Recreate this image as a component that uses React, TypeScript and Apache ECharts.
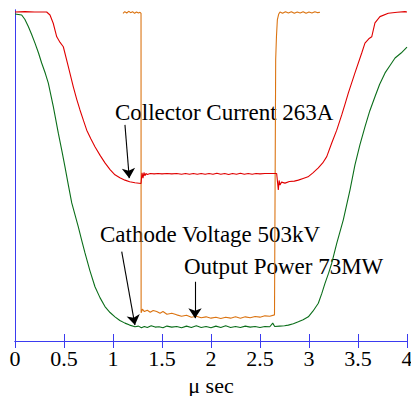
import React, { useEffect, useRef } from 'react';
import * as echarts from 'echarts';

// time in microseconds, amplitude in % of full scale
const collectorCurrent: number[][] = [
  [0, 99.4], [0.1, 99.5], [0.2, 99.4], [0.323, 99.4], [0.357, 98.5], [0.39, 96], [0.426, 91.9], [0.46, 90.2],
  [0.493, 88.9], [0.544, 82.9], [0.595, 76.8], [0.63, 73], [0.663, 69.8], [0.7, 66.5], [0.732, 63.7],
  [0.775, 61], [0.816, 58.7], [0.87, 56], [0.918, 53.8], [0.97, 51.8], [1.02, 50.2], [1.07, 49.3],
  [1.122, 48.6], [1.17, 48.1], [1.224, 47.8], [1.286, 47.6], [1.296, 50.8], [1.306, 49.2], [1.316, 50.9],
  [1.326, 49.9], [1.336, 50.6], [1.35, 50.3], [1.38, 50.6], [1.42, 50.5], [1.46, 50.6], [1.5, 50.5],
  [1.55, 50.6], [1.6, 50.5], [1.65, 50.6], [1.7, 50.4], [1.74, 50.6], [1.78, 50.4], [1.82, 50.6],
  [1.86, 50.4], [1.9, 50.6], [1.94, 50.4], [1.98, 50.6], [2.02, 50.4], [2.06, 50.7], [2.1, 50.4],
  [2.14, 50.6], [2.18, 50.3], [2.22, 50.6], [2.26, 50.4], [2.3, 50.7], [2.34, 50.4], [2.38, 50.6],
  [2.42, 50.4], [2.46, 50.6], [2.5, 50.5], [2.55, 50.6], [2.6, 50.6], [2.67, 50.6], [2.687, 45.6],
  [2.695, 48.5], [2.704, 47.1], [2.72, 48], [2.755, 47.7], [2.8, 48.2], [2.85, 48.3], [2.891, 48.6],
  [2.94, 49.1], [2.99, 49.6], [3.04, 50.8], [3.095, 52.3], [3.14, 53.8], [3.181, 55.7], [3.232, 59.8],
  [3.283, 63.7], [3.334, 68.3], [3.37, 71.8], [3.401, 74.9], [3.469, 81.0], [3.538, 87.0], [3.571, 90.0],
  [3.61, 91.3], [3.64, 91.9], [3.673, 96.1], [3.724, 98.0], [3.809, 99.0], [3.9, 99.3], [3.98, 99.5], [4, 99.4],
];

const cathodeVoltage: number[][] = [
  [0, 98.8], [0.068, 98.5], [0.1, 97.2], [0.136, 95.0], [0.17, 92.6], [0.204, 90.0], [0.24, 87], [0.272, 84.0],
  [0.31, 80.8], [0.34, 77.9], [0.391, 70.8], [0.442, 62.8], [0.48, 57.2], [0.51, 52.6], [0.545, 47],
  [0.579, 41.7], [0.646, 34.5], [0.68, 30.5], [0.714, 26.6], [0.765, 21.2], [0.816, 16.4], [0.867, 13.1],
  [0.918, 10.4], [0.97, 8.6], [1.02, 7.3], [1.07, 6.2], [1.122, 5.4], [1.17, 4.8], [1.224, 4.3],
  [1.26, 4.5], [1.29, 4.0], [1.32, 4.4], [1.35, 4.1], [1.39, 4.6], [1.43, 4.2], [1.47, 4.3], [1.51, 4.0],
  [1.55, 4.5], [1.6, 4.2], [1.65, 4.4], [1.7, 4.0], [1.75, 4.5], [1.8, 4.1], [1.85, 4.6], [1.9, 4.1],
  [1.95, 4.4], [2.0, 4.0], [2.05, 4.5], [2.1, 4.1], [2.15, 4.6], [2.2, 4.1], [2.25, 4.4], [2.3, 4.1],
  [2.35, 4.5], [2.4, 4.2], [2.45, 4.4], [2.5, 4.1], [2.55, 4.4], [2.6, 4.3], [2.63, 5.4], [2.65, 4.4],
  [2.7, 4.5], [2.75, 4.6], [2.789, 4.8], [2.84, 5.2], [2.891, 5.8], [2.94, 6.4], [2.993, 7.3], [3.04, 9.0],
  [3.095, 11.4], [3.13, 14.3], [3.163, 17.4], [3.2, 20.5], [3.232, 23.5], [3.283, 29.5], [3.35, 36.6],
  [3.418, 45.6], [3.469, 53.2], [3.52, 59.3], [3.571, 64.7], [3.62, 69.5], [3.673, 73.8], [3.72, 77.5],
  [3.776, 81.0], [3.83, 83.4], [3.878, 85.5], [3.94, 87.0], [4.0, 88.8],
];

const outputPower: number[][] = [
  [1.102, 99.0], [1.12, 99.5], [1.14, 99.1], [1.16, 99.6], [1.18, 99.2], [1.2, 99.5], [1.22, 99.0],
  [1.24, 99.4], [1.26, 99.1], [1.276, 99.3], [1.286, 99.0], [1.287, 8.5], [1.3, 9.6], [1.32, 8.9],
  [1.35, 9.3], [1.38, 8.7], [1.41, 9.2], [1.446, 8.9], [1.48, 8.4], [1.51, 8.9], [1.55, 8.1], [1.6, 8.4],
  [1.65, 7.9], [1.7, 7.5], [1.75, 7.8], [1.8, 7.2], [1.85, 7.5], [1.9, 7.0], [1.95, 7.3], [2.0, 6.9],
  [2.05, 7.2], [2.1, 6.8], [2.15, 7.2], [2.2, 6.9], [2.25, 7.3], [2.3, 6.9], [2.35, 7.3], [2.4, 7.0],
  [2.45, 7.4], [2.5, 7.2], [2.55, 7.6], [2.6, 7.5], [2.648, 7.9], [2.66, 85], [2.668, 92], [2.677, 97],
  [2.69, 98.7], [2.704, 99.4], [2.73, 99.0], [2.76, 99.5], [2.79, 99.1], [2.82, 99.5], [2.85, 99.0],
  [2.88, 99.4], [2.91, 99.1], [2.94, 99.5], [2.97, 99.0], [3.0, 99.4], [3.03, 99.1], [3.06, 99.5],
  [3.09, 99.2], [3.112, 99.3],
];

// annotation arrows: [start, tip] in data coordinates
const collectorArrow = [[1.122, 65.3], [1.166, 49.2]];
const cathodeArrow = [[1.089, 27.0], [1.224, 4.8]];
const powerArrow = [[1.837, 17.9], [1.837, 6.9]];

const labels = ['Collector Current 263A', 'Cathode Voltage 503kV', 'Output Power 73MW'];
const xName = 'μ sec';

const SERIF = 'Times New Roman, Liberation Serif, Times, serif';
const BLUE = '#3b3bf0';

function arrowLine(a: number[][]) {
  return [{ coord: a[0] }, { coord: a[1] }];
}

export default function App() {
  const ref = useRef<HTMLDivElement>(null);
  useEffect(() => {
    const chart = echarts.init(ref.current!, null, { renderer: 'svg' });
    const axisBase = {
      type: 'value',
      min: 0,
      max: 4,
      interval: 0.5,
      splitLine: { show: false },
      axisLine: { show: true, lineStyle: { color: BLUE, width: 1 } },
      axisTick: { show: true, inside: true, length: 7, lineStyle: { color: BLUE, width: 1 } },
    };
    chart.setOption({
      animation: false,
      textStyle: { fontFamily: SERIF },
      grid: { left: 15, top: 10, right: 4, bottom: 55, outerBoundsMode: 'none', containLabel: false },
      xAxis: [
        {
          ...axisBase,
          position: 'bottom',
          name: xName,
          nameLocation: 'middle',
          nameGap: 33,
          nameTextStyle: { fontSize: 22, fontFamily: SERIF, color: '#000' },
          axisLabel: { show: true, fontSize: 22, fontFamily: SERIF, color: '#000', margin: 6 },
        },
        {
          ...axisBase,
          position: 'top',
          axisLabel: { show: false },
        },
      ],
      yAxis: [
        {
          type: 'value', min: 0, max: 100, position: 'left',
          splitLine: { show: false }, axisLabel: { show: false }, axisTick: { show: false },
          axisLine: { show: true, lineStyle: { color: BLUE, width: 1 } },
        },
        {
          type: 'value', min: 0, max: 100, position: 'right',
          splitLine: { show: false }, axisLabel: { show: false }, axisTick: { show: false },
          axisLine: { show: true, lineStyle: { color: BLUE, width: 1 } },
        },
      ],
      series: [
        {
          type: 'line', data: cathodeVoltage, showSymbol: false, silent: true,
          lineStyle: { color: '#0b6e1a', width: 1.1 },
          markLine: {
            silent: true, symbol: ['none', 'arrow'], symbolSize: 10, animation: false,
            label: { show: false },
            lineStyle: { color: '#000', width: 1.1, type: 'solid' },
            data: [arrowLine(collectorArrow), arrowLine(cathodeArrow), arrowLine(powerArrow)],
          },
        },
        {
          type: 'line', data: outputPower, showSymbol: false, silent: true,
          lineStyle: { color: '#db7412', width: 1.1 },
        },
        {
          type: 'line', data: collectorCurrent, showSymbol: false, silent: true,
          lineStyle: { color: '#e00000', width: 1.1 },
        },
      ],
      graphic: [
        { type: 'text', x: 115, y: 112, silent: true,
          style: { text: labels[0], fontSize: 23, fontFamily: SERIF, fill: '#000', verticalAlign: 'middle' } },
        { type: 'text', x: 100, y: 234, silent: true,
          style: { text: labels[1], fontSize: 23, fontFamily: SERIF, fill: '#000', verticalAlign: 'middle' } },
        { type: 'text', x: 184, y: 266, silent: true,
          style: { text: labels[2], fontSize: 23, fontFamily: SERIF, fill: '#000', verticalAlign: 'middle' } },
      ],
    });
    return () => chart.dispose();
  }, []);
  return <div ref={ref} style={{ position: 'absolute', left: 0, top: 0, width: 411, height: 396 }} />;
}
